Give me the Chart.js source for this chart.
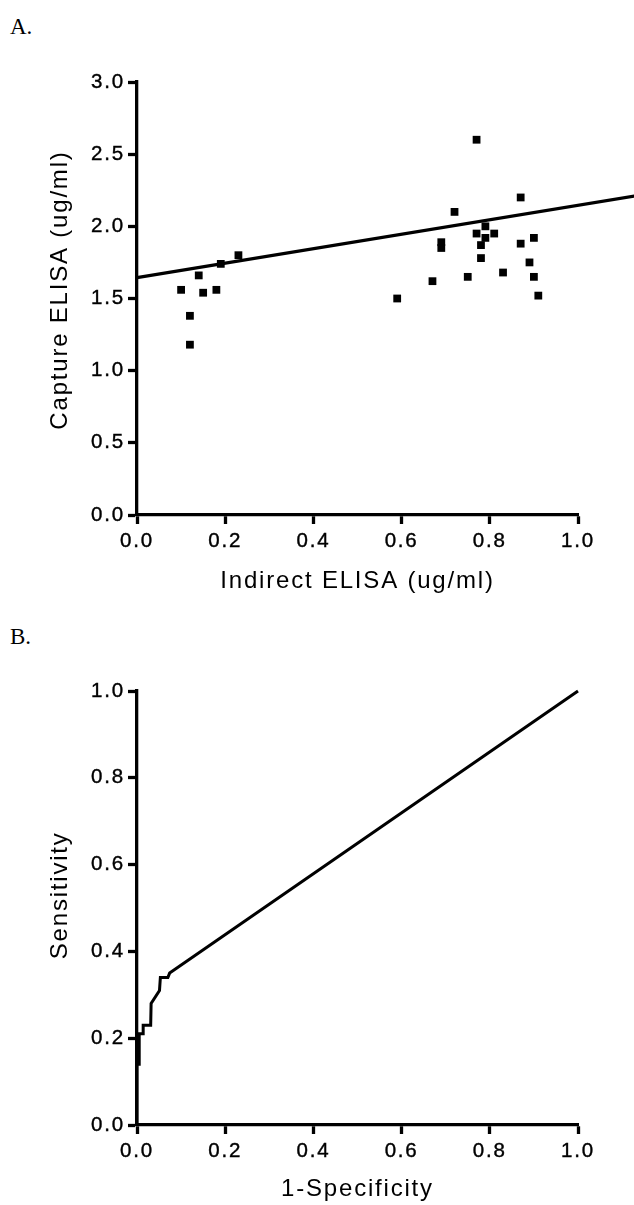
<!DOCTYPE html>
<html>
<head>
<meta charset="utf-8">
<script src="https://cdn.jsdelivr.net/npm/chart.js@4.4.1/dist/chart.umd.min.js"></script>
<style>
    body { margin: 0; background: #fff; }
    .page { position: relative; width: 634px; height: 1205px; }
    .page canvas { position: absolute; left: 0; }
    .panel { position: absolute; left: 10px; font-family: "Liberation Serif", "Times New Roman", serif; font-size: 23px; line-height: 1; color: #000; }
</style>
</head>
<body>
<div class="page">
    <div class="panel" style="top: 15px;">A.</div>
    <canvas id="scatterChart" width="634" height="600" style="top: 0;"></canvas>
    <div class="panel" style="top: 625px;">B.</div>
    <canvas id="rocChart" width="634" height="605" style="top: 600px;"></canvas>
</div>
<script>
// panel A: indirect vs capture ELISA
var indirect = [0.10, 0.12, 0.12, 0.14, 0.15, 0.18, 0.19, 0.23, 0.59, 0.67, 0.69, 0.69, 0.72, 0.75,
    0.77, 0.77, 0.78, 0.78, 0.79, 0.79, 0.81, 0.83, 0.87, 0.87, 0.89, 0.90, 0.90, 0.91];
var capture = [1.56, 1.38, 1.18, 1.66, 1.54, 1.56, 1.74, 1.80, 1.50, 1.62, 1.89, 1.85, 2.10, 1.65,
    2.60, 1.95, 1.87, 1.78, 2.00, 1.92, 1.95, 1.68, 2.20, 1.88, 1.75, 1.92, 1.65, 1.52];
// fitted line end points
var fitX = [0, 1.13];
var fitY = [1.645, 2.21];

// panel B: ROC curve
var rocX = [0, 0, 0.005, 0.005, 0.014, 0.014, 0.031, 0.032, 0.051, 0.053, 0.070, 0.074, 1.0];
var rocY = [0, 0.14, 0.14, 0.21, 0.21, 0.23, 0.23, 0.28, 0.31, 0.34, 0.34, 0.35, 1.0];

var xTicks = ['0.0', '0.2', '0.4', '0.6', '0.8', '1.0'];
var yTicksA = ['0.0', '0.5', '1.0', '1.5', '2.0', '2.5', '3.0'];
var yTicksB = ['0.0', '0.2', '0.4', '0.6', '0.8', '1.0'];

var fontFamily = '"Liberation Sans", Arial, Helvetica, sans-serif';

var spacing = {
    id: 'spacing',
    beforeDraw: function (chart) {
        chart.ctx.letterSpacing = '1.8px';
    }
};

function pairs(xs, ys) {
    return xs.map(function (x, i) { return { x: x, y: ys[i] }; });
}

function axis(min, max, step, labels, title, extra) {
    var a = {
        type: 'linear',
        min: min,
        max: max,
        grid: { drawOnChartArea: false, drawTicks: true, tickLength: 9, tickWidth: 3.3, tickColor: '#000' },
        border: { display: true, color: '#000', width: 3.3 },
        ticks: {
            stepSize: step,
            autoSkip: false,
            maxRotation: 0,
            color: '#000',
            textStrokeColor: '#000',
            textStrokeWidth: 0.4,
            font: { family: fontFamily, size: 20.5 },
            callback: function (v, i) { return labels[i]; }
        },
        title: { display: true, text: title, color: '#000', font: { family: fontFamily, size: 24 } }
    };
    for (var k in extra) a[k] = extra[k];
    return a;
}

var scatterCtx = document.getElementById('scatterChart').getContext('2d');
var scatterChart = new Chart(scatterCtx, {
    type: 'scatter',
    data: {
        datasets: [{
            data: pairs(fitX, fitY),
            showLine: true,
            borderColor: '#000',
            borderWidth: 3.2,
            pointRadius: 0,
            clip: false
        }, {
            data: pairs(indirect, capture),
            pointStyle: 'rect',
            pointRadius: 5.5,
            backgroundColor: '#000',
            borderWidth: 0
        }]
    },
    options: {
        responsive: false,
        animation: false,
        layout: { padding: { top: 82, right: 56, bottom: 0, left: 0 } },
        plugins: { legend: { display: false }, tooltip: { enabled: false } },
        scales: {
            x: axis(0, 1, 0.2, xTicks, 'Indirect ELISA (ug/ml)', {
                position: 'bottom',
                afterFit: function (s) { s.height = 85; }
            }),
            y: axis(0, 3, 0.5, yTicksA, '  Capture ELISA (ug/ml)', {
                position: 'left',
                afterFit: function (s) { s.width = 137; }
            })
        }
    },
    plugins: [spacing]
});
scatterChart.options.scales.x.ticks.padding = 4.8;
scatterChart.options.scales.x.title.padding = { top: 0, bottom: 4.6 };
scatterChart.options.scales.y.ticks.padding = 3;
scatterChart.options.scales.y.title.padding = { top: 45.6, bottom: 0 };
scatterChart.update();

var rocCtx = document.getElementById('rocChart').getContext('2d');
var rocChart = new Chart(rocCtx, {
    type: 'scatter',
    data: {
        datasets: [{
            data: pairs(rocX, rocY),
            showLine: true,
            borderColor: '#000',
            borderWidth: 3,
            pointRadius: 0,
            clip: false
        }]
    },
    options: {
        responsive: false,
        animation: false,
        layout: { padding: { top: 91, right: 56, bottom: 0, left: 0 } },
        plugins: { legend: { display: false }, tooltip: { enabled: false } },
        scales: {
            x: axis(0, 1, 0.2, xTicks, '1-Specificity', {
                position: 'bottom',
                afterFit: function (s) { s.height = 80; }
            }),
            y: axis(0, 1, 0.2, yTicksB, '   Sensitivity', {
                position: 'left',
                afterFit: function (s) { s.width = 137; }
            })
        }
    },
    plugins: [spacing]
});
rocChart.options.scales.x.ticks.padding = 4.8;
rocChart.options.scales.x.title.padding = { top: 0, bottom: 1.6 };
rocChart.options.scales.y.ticks.padding = 3;
rocChart.options.scales.y.title.padding = { top: 45.6, bottom: 0 };
rocChart.update();
</script>
</body>
</html>
